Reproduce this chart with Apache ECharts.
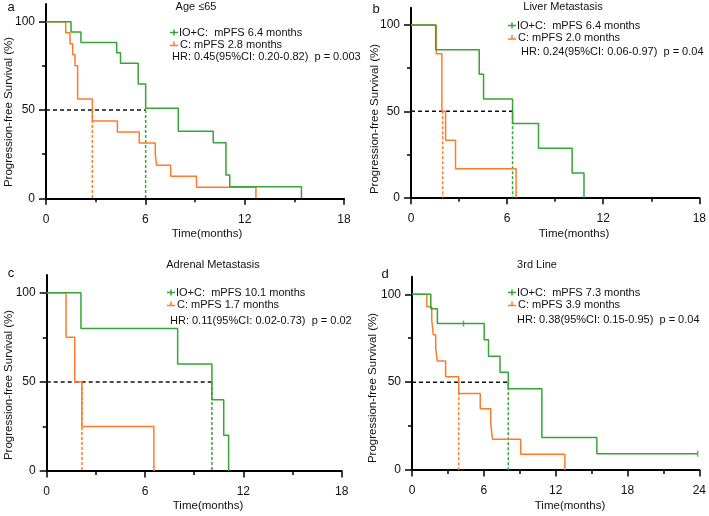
<!DOCTYPE html>
<html>
<head>
<meta charset="utf-8">
<title>PFS subgroups</title>
<script src="https://cdn.jsdelivr.net/npm/echarts@6/dist/echarts.min.js"></script>
<style>
    html, body { margin: 0; padding: 0; background: #fff; }
    #main { width: 709px; height: 516px; }
</style>
</head>
<body>
<div id="main"></div>
<script>
// a: Age <=65
var ageIoTime = [0, 1.51, 2.11, 4.27, 4.5, 5.57, 6.02, 7.99, 10.1, 10.87, 11.1, 15.43];
var ageIoSurv = [100, 94.1, 88.2, 82.4, 76.5, 64.7, 51, 38.0, 31.4, 13.2, 6.6, 0];
var ageCTime = [0, 1.19, 1.45, 1.61, 1.75, 1.91, 2.8, 4.31, 5.63, 6.6, 6.68, 7.53, 9.09, 12.68];
var ageCSurv = [100, 93.75, 87.5, 81.25, 75, 56.25, 43.75, 37.5, 31.25, 25, 18.75, 12.5, 6.25, 0];
var ageMedian = [6.02, 2.8];

// b: Liver Metastasis
var liverIoTime = [0, 1.54, 4.26, 4.53, 6.34, 7.96, 10.06, 10.8];
var liverIoSurv = [100, 85.7, 71.4, 57.1, 42.9, 28.6, 14.3, 0];
var liverCTime = [0, 1.58, 1.93, 2.16, 2.78, 6.56];
var liverCSurv = [100, 83.3, 50, 33.3, 16.7, 0];
var liverMedian = [6.34, 1.98];

// c: Adrenal Metastasis
var adrIoTime = [0, 2.09, 7.99, 10.08, 10.8, 11.1];
var adrIoSurv = [100, 80, 60, 40, 20, 0];
var adrCTime = [0, 1.18, 1.71, 2.15, 6.54];
var adrCSurv = [100, 75, 50, 25, 0];
var adrMedian = [10.08, 2.15];

// d: 3rd Line
var lineIoTime = [0, 1.57, 2.12, 6.03, 6.39, 7.35, 8.04, 10.85, 15.44, 23.86];
var lineIoSurv = [100, 91.7, 83.3, 74.1, 64.8, 55.6, 46.3, 18.5, 9.3, 9.3];
var lineCTime = [0, 1.24, 1.65, 1.78, 1.98, 2.12, 2.81, 3.9, 5.7, 6.58, 6.72, 9.08, 12.77];
var lineCSurv = [100, 92.9, 85.4, 76.9, 69.3, 62.0, 53.1, 43.6, 34.9, 26.6, 17.5, 8.9, 0];
var lineMedian = [8.04, 3.9];
var lineIoCensorTime = [4.3, 23.86];
var lineIoCensorSurv = [83.3, 9.3];

var titles = ['Age \u226465', 'Liver Metastasis', 'Adrenal Metastasis', '3rd Line'];
var letters = ['a', 'b', 'c', 'd'];
var ioLabels = ['IO+C:  mPFS 6.4 months', 'IO+C:  mPFS 6.4 months', 'IO+C:  mPFS 10.1 months', 'IO+C:  mPFS 7.3 months'];
var cLabels = ['C: mPFS 2.8 months', 'C: mPFS 2.0 months', 'C: mPFS 1.7 months', 'C: mPFS 3.9 months'];
var hrLabels = ['HR: 0.45(95%CI: 0.20-0.82)  p = 0.003', 'HR: 0.24(95%CI: 0.06-0.97)  p = 0.04',
                'HR: 0.11(95%CI: 0.02-0.73)  p = 0.02', 'HR: 0.38(95%CI: 0.15-0.95)  p = 0.04'];
var xMaxes = [18, 18, 18, 24];
var yTicks = [0, 50, 100];
var yMinorTicks = [25, 75];

var GREEN = '#35a535';
var ORANGE = '#ff7b2b';
var FONT = 'Arial, "Liberation Sans", sans-serif';

// grid boxes and text spots for each panel (pixels)
var layout = [
    { grid: { left: 46, top: 4, width: 298, height: 194.3 }, letter: [11, 7], title: [196, 7],
      legX: 170, legY: [32.5, 44.5], hr: [172, 57], xName: [207, 234], yName: [9, 112] },
    { grid: { left: 411, top: 7.7, width: 291.7, height: 190 }, letter: [376, 9], title: [563, 7],
      legX: 508, legY: [25.5, 38], hr: [521, 51.5], xName: [574, 234], yName: [375, 119] },
    { grid: { left: 46.7, top: 275, width: 295, height: 196 }, letter: [11, 273], title: [213, 265],
      legX: 167, legY: [292.5, 304.5], hr: [170, 321], xName: [208, 506], yName: [9, 385] },
    { grid: { left: 412, top: 276.7, width: 290.7, height: 193.3 }, letter: [385, 274], title: [537, 265],
      legX: 508, legY: [292.5, 304.5], hr: [517, 320], xName: [570, 506], yName: [373, 388] }
];

var curves = [
    [ageIoTime, ageIoSurv, ageCTime, ageCSurv, ageMedian],
    [liverIoTime, liverIoSurv, liverCTime, liverCSurv, liverMedian],
    [adrIoTime, adrIoSurv, adrCTime, adrCSurv, adrMedian],
    [lineIoTime, lineIoSurv, lineCTime, lineCSurv, lineMedian]
];

function pairs(t, s) {
    var out = [];
    for (var i = 0; i < t.length; i++) out.push([t[i], s[i]]);
    return out;
}

var grids = [], xAxes = [], yAxes = [], series = [], graphics = [];

for (var g = 0; g < 4; g++) {
    var L = layout[g];
    grids.push(L.grid);
    xAxes.push({
        type: 'value', gridIndex: g, min: 0, max: xMaxes[g], interval: 6,
        axisLine: { lineStyle: { color: '#000', width: 2 } },
        axisTick: { length: 6.5, lineStyle: { color: '#000', width: 1.5 } },
        minorTick: { show: true, splitNumber: 2, length: 4, lineStyle: { color: '#000', width: 1.5 } },
        axisLabel: { color: '#111', fontSize: 12, fontFamily: FONT, margin: 15 },
        splitLine: { show: false }
    });
    yAxes.push({
        type: 'value', gridIndex: g, position: 'left', min: 0, max: 110,
        axisLine: { show: true, lineStyle: { color: '#000', width: 2 } },
        axisTick: { show: true, customValues: yTicks, length: 7, lineStyle: { color: '#000', width: 1.5 } },
        axisLabel: { customValues: yTicks, color: '#111', fontSize: 12, fontFamily: FONT, margin: 11 },
        splitLine: { show: false }
    });
    // second axis on the same line, only for the short ticks at 25 and 75
    yAxes.push({
        type: 'value', gridIndex: g, position: 'left', offset: 0, min: 0, max: 110,
        axisLine: { show: true, lineStyle: { color: '#000', width: 2, opacity: 0 } },
        axisTick: { show: true, customValues: yMinorTicks, length: 4, lineStyle: { color: '#000', width: 1.5 } },
        axisLabel: { show: false },
        splitLine: { show: false }
    });

    var c = curves[g];
    var yi = g * 2;
    var med = c[4];
    series.push({
        type: 'line', xAxisIndex: g, yAxisIndex: yi, data: [[0, 50], [med[0], 50]],
        symbol: 'none', silent: true, lineStyle: { color: '#111', width: 1.5, type: [4, 3] }
    });
    series.push({
        type: 'line', xAxisIndex: g, yAxisIndex: yi, data: [[med[0], 50], [med[0], 0]],
        symbol: 'none', silent: true, lineStyle: { color: GREEN, width: 1.5, type: [3, 2] }
    });
    series.push({
        type: 'line', xAxisIndex: g, yAxisIndex: yi, data: [[med[1], 50], [med[1], 0]],
        symbol: 'none', silent: true, lineStyle: { color: ORANGE, width: 1.5, type: [3, 2] }
    });
    series.push({
        type: 'line', xAxisIndex: g, yAxisIndex: yi, data: pairs(c[2], c[3]), step: 'end',
        symbol: 'none', silent: true, lineStyle: { color: ORANGE, width: 1.5 }
    });
    series.push({
        type: 'line', xAxisIndex: g, yAxisIndex: yi, data: pairs(c[0], c[1]), step: 'end',
        symbol: 'none', silent: true, lineStyle: { color: GREEN, width: 1.5 }
    });

    // panel letter and title
    graphics.push({ type: 'text', x: L.letter[0], y: L.letter[1],
        style: { text: letters[g], font: '13px ' + FONT, fill: '#111', align: 'center', verticalAlign: 'middle' } });
    graphics.push({ type: 'text', x: L.title[0], y: L.title[1],
        style: { text: titles[g], font: '11px ' + FONT, fill: '#111', align: 'center', verticalAlign: 'middle' } });

    // legend rows
    var lx = L.legX;
    graphics.push({ type: 'line', shape: { x1: lx, y1: L.legY[0], x2: lx + 8, y2: L.legY[0] }, style: { stroke: GREEN, lineWidth: 1.5 } });
    graphics.push({ type: 'line', shape: { x1: lx + 4, y1: L.legY[0] - 3, x2: lx + 4, y2: L.legY[0] + 3 }, style: { stroke: GREEN, lineWidth: 1.5 } });
    graphics.push({ type: 'text', x: lx + 9, y: L.legY[0],
        style: { text: ioLabels[g], font: '11px ' + FONT, fill: '#111', align: 'left', verticalAlign: 'middle' } });
    graphics.push({ type: 'line', shape: { x1: lx, y1: L.legY[1] + 1, x2: lx + 8, y2: L.legY[1] + 1 }, style: { stroke: ORANGE, lineWidth: 1.5 } });
    graphics.push({ type: 'line', shape: { x1: lx + 4, y1: L.legY[1] - 3, x2: lx + 4, y2: L.legY[1] + 1 }, style: { stroke: ORANGE, lineWidth: 1.5 } });
    graphics.push({ type: 'text', x: lx + 10, y: L.legY[1],
        style: { text: cLabels[g], font: '11px ' + FONT, fill: '#111', align: 'left', verticalAlign: 'middle' } });
    graphics.push({ type: 'text', x: L.hr[0], y: L.hr[1],
        style: { text: hrLabels[g], font: '11px ' + FONT, fill: '#111', align: 'left', verticalAlign: 'middle' } });

    // axis titles
    graphics.push({ type: 'text', x: L.xName[0], y: L.xName[1],
        style: { text: 'Time(months)', font: '11.5px ' + FONT, fill: '#111', align: 'center', verticalAlign: 'middle' } });
    graphics.push({ type: 'text', x: L.yName[0], y: L.yName[1], rotation: Math.PI / 2,
        style: { text: 'Progression-free Survival (%)', font: '11.5px ' + FONT, fill: '#111', align: 'center', verticalAlign: 'middle' } });
}

// censored marks on the 3rd line IO+C curve
series.push({
    type: 'scatter', xAxisIndex: 3, yAxisIndex: 6, data: pairs(lineIoCensorTime, lineIoCensorSurv),
    symbol: 'rect', symbolSize: [1.5, 6], itemStyle: { color: GREEN }, silent: true
});

var chart = echarts.init(document.getElementById('main'), null, { renderer: 'canvas' });
chart.setOption({
    animation: false,
    backgroundColor: '#fff',
    grid: grids,
    xAxis: xAxes,
    yAxis: yAxes,
    series: series,
    graphic: graphics
});
</script>
</body>
</html>
